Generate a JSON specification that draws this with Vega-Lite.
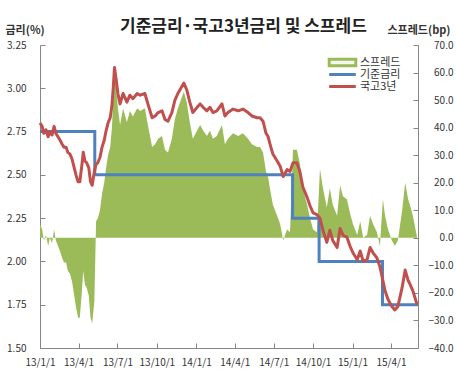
{
  "$schema": "https://vega.github.io/schema/vega-lite/v6.json",
  "width": 378,
  "height": 303,
  "autosize": {"type": "none"},
  "padding": {"left": 40, "top": 45, "right": 38, "bottom": 32},
  "background": "white",
  "config": {
    "font": "Noto Sans CJK KR",
    "view": {"stroke": null},
    "axis": {
      "domainColor": "#868686",
      "tickColor": "#868686",
      "labelColor": "#333333",
      "labelFontSize": 10,
      "grid": false,
      "tickSize": -5,
      "titleFontWeight": "bold",
      "titleFontSize": 11,
      "titleColor": "#333333"
    }
  },
  "title": {
    "text": "기준금리·국고3년금리 및 스프레드",
    "fontSize": 17,
    "fontWeight": "bold",
    "color": "#222222",
    "anchor": "start",
    "frame": "group",
    "dx": 80,
    "dy": 20,
    "offset": 8
  },
  "datasets": {
    "rates": [
      {"d": "2013-01-01", "t3": 2.80, "sp": 5},
      {"d": "2013-01-06", "t3": 2.78, "sp": 3},
      {"d": "2013-01-10", "t3": 2.74, "sp": -1},
      {"d": "2013-01-15", "t3": 2.76, "sp": 1},
      {"d": "2013-01-20", "t3": 2.72, "sp": -3},
      {"d": "2013-01-24", "t3": 2.75, "sp": 0},
      {"d": "2013-01-29", "t3": 2.73, "sp": -2},
      {"d": "2013-02-03", "t3": 2.78, "sp": 3},
      {"d": "2013-02-07", "t3": 2.74, "sp": -1},
      {"d": "2013-02-12", "t3": 2.72, "sp": -3},
      {"d": "2013-02-17", "t3": 2.70, "sp": -5},
      {"d": "2013-02-21", "t3": 2.68, "sp": -7},
      {"d": "2013-02-26", "t3": 2.66, "sp": -9},
      {"d": "2013-03-03", "t3": 2.66, "sp": -9},
      {"d": "2013-03-07", "t3": 2.63, "sp": -12},
      {"d": "2013-03-12", "t3": 2.62, "sp": -13},
      {"d": "2013-03-17", "t3": 2.59, "sp": -16},
      {"d": "2013-03-21", "t3": 2.55, "sp": -20},
      {"d": "2013-03-26", "t3": 2.50, "sp": -25},
      {"d": "2013-03-31", "t3": 2.46, "sp": -29},
      {"d": "2013-04-04", "t3": 2.46, "sp": -29},
      {"d": "2013-04-09", "t3": 2.56, "sp": -19},
      {"d": "2013-04-12", "t3": 2.63, "sp": -12},
      {"d": "2013-04-16", "t3": 2.58, "sp": -17},
      {"d": "2013-04-20", "t3": 2.57, "sp": -18},
      {"d": "2013-04-25", "t3": 2.54, "sp": -21},
      {"d": "2013-04-29", "t3": 2.46, "sp": -29},
      {"d": "2013-05-03", "t3": 2.44, "sp": -31},
      {"d": "2013-05-08", "t3": 2.52, "sp": -23},
      {"d": "2013-05-12", "t3": 2.56, "sp": 6},
      {"d": "2013-05-16", "t3": 2.57, "sp": 7},
      {"d": "2013-05-21", "t3": 2.60, "sp": 10},
      {"d": "2013-05-26", "t3": 2.66, "sp": 16},
      {"d": "2013-05-31", "t3": 2.70, "sp": 20},
      {"d": "2013-06-04", "t3": 2.75, "sp": 25},
      {"d": "2013-06-09", "t3": 2.80, "sp": 30},
      {"d": "2013-06-14", "t3": 2.83, "sp": 33},
      {"d": "2013-06-18", "t3": 2.90, "sp": 40},
      {"d": "2013-06-21", "t3": 3.00, "sp": 50},
      {"d": "2013-06-24", "t3": 3.12, "sp": 62},
      {"d": "2013-06-28", "t3": 3.05, "sp": 55},
      {"d": "2013-07-02", "t3": 2.97, "sp": 47},
      {"d": "2013-07-07", "t3": 2.91, "sp": 41},
      {"d": "2013-07-14", "t3": 2.97, "sp": 47},
      {"d": "2013-07-23", "t3": 2.92, "sp": 42},
      {"d": "2013-07-30", "t3": 2.96, "sp": 46},
      {"d": "2013-08-06", "t3": 2.94, "sp": 44},
      {"d": "2013-08-16", "t3": 2.97, "sp": 47},
      {"d": "2013-08-23", "t3": 2.96, "sp": 46},
      {"d": "2013-09-03", "t3": 2.97, "sp": 47},
      {"d": "2013-09-10", "t3": 2.91, "sp": 41},
      {"d": "2013-09-20", "t3": 2.83, "sp": 33},
      {"d": "2013-09-27", "t3": 2.84, "sp": 34},
      {"d": "2013-10-04", "t3": 2.86, "sp": 36},
      {"d": "2013-10-13", "t3": 2.87, "sp": 37},
      {"d": "2013-10-20", "t3": 2.82, "sp": 32},
      {"d": "2013-10-27", "t3": 2.81, "sp": 31},
      {"d": "2013-11-05", "t3": 2.86, "sp": 36},
      {"d": "2013-11-12", "t3": 2.93, "sp": 43},
      {"d": "2013-11-19", "t3": 2.97, "sp": 47},
      {"d": "2013-11-26", "t3": 3.00, "sp": 50},
      {"d": "2013-12-03", "t3": 3.03, "sp": 53},
      {"d": "2013-12-10", "t3": 2.99, "sp": 49},
      {"d": "2013-12-17", "t3": 2.92, "sp": 42},
      {"d": "2013-12-24", "t3": 2.86, "sp": 36},
      {"d": "2014-01-03", "t3": 2.89, "sp": 39},
      {"d": "2014-01-10", "t3": 2.91, "sp": 41},
      {"d": "2014-01-17", "t3": 2.89, "sp": 39},
      {"d": "2014-01-26", "t3": 2.87, "sp": 37},
      {"d": "2014-02-02", "t3": 2.89, "sp": 39},
      {"d": "2014-02-09", "t3": 2.86, "sp": 36},
      {"d": "2014-02-18", "t3": 2.87, "sp": 37},
      {"d": "2014-03-02", "t3": 2.91, "sp": 41},
      {"d": "2014-03-09", "t3": 2.84, "sp": 34},
      {"d": "2014-03-16", "t3": 2.86, "sp": 36},
      {"d": "2014-03-28", "t3": 2.88, "sp": 38},
      {"d": "2014-04-09", "t3": 2.87, "sp": 37},
      {"d": "2014-04-20", "t3": 2.88, "sp": 38},
      {"d": "2014-05-02", "t3": 2.86, "sp": 36},
      {"d": "2014-05-11", "t3": 2.84, "sp": 34},
      {"d": "2014-05-23", "t3": 2.83, "sp": 33},
      {"d": "2014-05-30", "t3": 2.83, "sp": 33},
      {"d": "2014-06-06", "t3": 2.81, "sp": 31},
      {"d": "2014-06-13", "t3": 2.74, "sp": 24},
      {"d": "2014-06-18", "t3": 2.72, "sp": 22},
      {"d": "2014-06-22", "t3": 2.68, "sp": 18},
      {"d": "2014-06-29", "t3": 2.62, "sp": 12},
      {"d": "2014-07-09", "t3": 2.58, "sp": 8},
      {"d": "2014-07-16", "t3": 2.55, "sp": 5},
      {"d": "2014-07-23", "t3": 2.49, "sp": -1},
      {"d": "2014-08-01", "t3": 2.53, "sp": 3},
      {"d": "2014-08-08", "t3": 2.52, "sp": 2},
      {"d": "2014-08-15", "t3": 2.57, "sp": 32},
      {"d": "2014-08-24", "t3": 2.57, "sp": 32},
      {"d": "2014-08-31", "t3": 2.52, "sp": 27},
      {"d": "2014-09-07", "t3": 2.43, "sp": 18},
      {"d": "2014-09-17", "t3": 2.37, "sp": 12},
      {"d": "2014-09-24", "t3": 2.32, "sp": 7},
      {"d": "2014-10-01", "t3": 2.28, "sp": 3},
      {"d": "2014-10-10", "t3": 2.27, "sp": 2},
      {"d": "2014-10-17", "t3": 2.25, "sp": 25},
      {"d": "2014-10-24", "t3": 2.18, "sp": 18},
      {"d": "2014-11-02", "t3": 2.11, "sp": 11},
      {"d": "2014-11-09", "t3": 2.18, "sp": 18},
      {"d": "2014-11-16", "t3": 2.12, "sp": 12},
      {"d": "2014-11-26", "t3": 2.08, "sp": 8},
      {"d": "2014-12-03", "t3": 2.19, "sp": 19},
      {"d": "2014-12-10", "t3": 2.15, "sp": 15},
      {"d": "2014-12-19", "t3": 2.14, "sp": 14},
      {"d": "2014-12-26", "t3": 2.09, "sp": 9},
      {"d": "2015-01-02", "t3": 2.05, "sp": 5},
      {"d": "2015-01-12", "t3": 2.01, "sp": 1},
      {"d": "2015-01-19", "t3": 2.06, "sp": 6},
      {"d": "2015-01-26", "t3": 2.00, "sp": 0},
      {"d": "2015-02-04", "t3": 2.01, "sp": 1},
      {"d": "2015-02-11", "t3": 2.08, "sp": 8},
      {"d": "2015-02-18", "t3": 2.05, "sp": 5},
      {"d": "2015-02-27", "t3": 2.02, "sp": 2},
      {"d": "2015-03-06", "t3": 1.97, "sp": -3},
      {"d": "2015-03-13", "t3": 1.89, "sp": 14},
      {"d": "2015-03-18", "t3": 1.83, "sp": 8},
      {"d": "2015-03-25", "t3": 1.78, "sp": 3},
      {"d": "2015-04-03", "t3": 1.74, "sp": -1},
      {"d": "2015-04-10", "t3": 1.72, "sp": -3},
      {"d": "2015-04-17", "t3": 1.74, "sp": -1},
      {"d": "2015-04-27", "t3": 1.85, "sp": 10},
      {"d": "2015-05-04", "t3": 1.95, "sp": 20},
      {"d": "2015-05-11", "t3": 1.89, "sp": 14},
      {"d": "2015-05-15", "t3": 1.87, "sp": 12},
      {"d": "2015-05-22", "t3": 1.83, "sp": 8},
      {"d": "2015-06-01", "t3": 1.75, "sp": 0}
    ],
    "base": [
      {"d": "2013-01-01", "rate": 2.75},
      {"d": "2013-05-09", "rate": 2.50},
      {"d": "2014-08-14", "rate": 2.25},
      {"d": "2014-10-15", "rate": 2.00},
      {"d": "2015-03-12", "rate": 1.75},
      {"d": "2015-06-03", "rate": 1.75}
    ]
  },
  "encoding": {
    "x": {
      "field": "d",
      "type": "temporal",
      "scale": {
        "type": "utc",
        "domain": [1356998400000, 1433289600000]
      },
      "axis": {
        "title": null,
        "labelExpr": "utcFormat(datum.value, '%y/%-m/%-d')",
        "labelPadding": 14,
        "labelFlush": false,
        "labelOverlap": false,
        "values": [1356998400000, 1364774400000, 1372636800000, 1380585600000, 1388534400000, 1396310400000, 1404172800000, 1412121600000, 1420070400000, 1427846400000]
      }
    }
  },
  "layer": [
    {
      "data": {"name": "rates"},
      "mark": {"type": "area", "interpolate": "linear", "color": "#9BBB59"},
      "encoding": {
        "y": {
          "field": "sp",
          "type": "quantitative",
          "scale": {"domain": [-40, 70], "nice": false, "zero": false},
          "axis": {
            "orient": "right",
            "values": [-40, -30, -20, -10, 0, 10, 20, 30, 40, 50, 60, 70],
            "format": ".1f",
            "labelAlign": "right",
            "labelPadding": 40,
            "title": "스프레드(bp)",
            "titleAngle": 0,
            "titleX": -31,
            "titleY": -15,
            "titleAlign": "left",
            "titleBaseline": "middle"
          }
        },
        "y2": {"datum": 0}
      }
    },
    {
      "data": {"name": "base"},
      "mark": {"type": "line", "interpolate": "step-after", "strokeWidth": 3},
      "encoding": {
        "y": {
          "field": "rate",
          "type": "quantitative",
          "scale": {"domain": [1.5, 3.25], "nice": false, "zero": false},
          "axis": null
        },
        "color": {
          "datum": "기준금리",
          "type": "nominal",
          "scale": {
            "domain": ["스프레드", "기준금리", "국고3년"],
            "range": ["#9BBB59", "#4F81BD", "#C0504D"]
          },
          "legend": {
            "orient": "none",
            "legendX": 287,
            "legendY": 12,
            "title": null,
            "labelFontSize": 11,
            "labelColor": "#333333",
            "symbolType": {"expr": "datum.value === '스프레드' ? 'M-3.8,-0.95H3.8V0.95H-3.8Z' : 'M-3.8,0H3.8'"},
            "symbolFillColor": {"expr": "datum.value === '스프레드' ? '#f4f7ee' : 'transparent'"},
            "symbolStrokeColor": {"expr": "scale('color', datum.value)"},
            "symbolStrokeWidth": 3,
            "symbolSize": 49,
            "symbolOffset": 10,
            "labelOffset": 12,
            "clipHeight": 11,
            "rowPadding": 0
          }
        }
      }
    },
    {
      "data": {"name": "rates"},
      "mark": {"type": "line", "strokeWidth": 3, "strokeJoin": "round"},
      "encoding": {
        "y": {
          "field": "t3",
          "type": "quantitative",
          "scale": {"domain": [1.5, 3.25], "nice": false, "zero": false},
          "axis": {
            "values": [1.5, 1.75, 2.0, 2.25, 2.5, 2.75, 3.0, 3.25],
            "format": ".2f",
            "labelPadding": 19,
            "title": "금리(%)",
            "titleAngle": 0,
            "titleX": -35,
            "titleY": -15,
            "titleAlign": "left",
            "titleBaseline": "middle"
          }
        },
        "color": {"datum": "국고3년", "type": "nominal"}
      }
    }
  ],
  "resolve": {"scale": {"y": "independent"}}
}
